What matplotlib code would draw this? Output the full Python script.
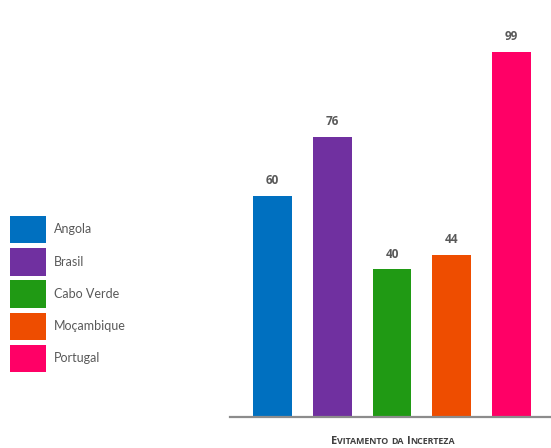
import matplotlib.pyplot as plt
import numpy as np
from matplotlib.offsetbox import TextArea, HPacker, AnnotationBbox

countries = ["Angola", "Brasil", "Cabo Verde", "Moçambique", "Portugal"]
values = [60, 76, 40, 44, 99]
colors = ["#0070C0", "#7030A0", "#209A14", "#EE4D00", "#FF0066"]
xlabel = "Evitamento da Incerteza"

fig = plt.figure(figsize=(5.51, 4.48), dpi=100)
ax = fig.add_axes([230 / 551, 31 / 448, 321 / 551, 417 / 448])

x = np.arange(len(values))
bars = ax.bar(x, values, width=0.65, color=colors, label=countries)

for xi, v in zip(x, values):
    ax.annotate(str(v), (xi, v), xytext=(0, 6), textcoords="offset points",
                ha="center", va="bottom", fontsize=8.5, fontweight="bold",
                color="#595959", family="Open Sans")

ax.set_xlim(-0.71, 4.66)
ax.set_ylim(0, 113)
for s in ["top", "right", "left"]:
    ax.spines[s].set_visible(False)
ax.spines["bottom"].set_color("#8c8c8c")
ax.spines["bottom"].set_linewidth(1.6)
ax.set_xticks([])
ax.set_yticks([])

# fake small caps for the axis title
pieces = []
for i, word in enumerate(xlabel.split()):
    if i > 0:
        pieces.append(TextArea(" ", textprops=dict(size=6.4)))
    if word[0].isupper():
        pieces.append(TextArea(word[0], textprops=dict(size=8, weight="bold",
                                                       color="#404040", family="Open Sans")))
        rest = word[1:]
    else:
        rest = word
    pieces.append(TextArea(rest.upper(), textprops=dict(size=6.4, weight="bold",
                                                      color="#404040", family="Open Sans")))
box = HPacker(children=pieces, align="baseline", pad=0, sep=0)
ab = AnnotationBbox(box, (393 / 551, 1 - 441 / 448), xycoords="figure fraction",
                    frameon=False, box_alignment=(0.5, 0.5))
fig.add_artist(ab)

fig.legend(bars, countries, loc="upper left",
           bbox_to_anchor=(10 / 551, 1 - 216 / 448), frameon=False,
           borderpad=0, borderaxespad=0, handlelength=2.9, handleheight=3.0,
           labelspacing=0.38, handletextpad=0.6,
           prop={"family": "Lato", "size": 9}, labelcolor="#595959")

fig.savefig("out.png", dpi=100)
